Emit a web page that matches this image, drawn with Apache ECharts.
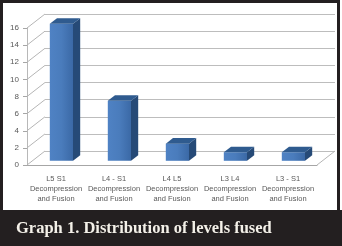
<!DOCTYPE html>
<html>
<head>
<meta charset="utf-8">
<script src="https://cdn.jsdelivr.net/npm/echarts@6/dist/echarts.min.js"></script>
<style>
  html, body { margin: 0; padding: 0; background: #fff; }
  #main { width: 342px; height: 246px; }
</style>
</head>
<body>
<div id="main"></div>
<script>
var levels = ["L5 S1", "L4 - S1", "L4 L5", "L3 L4", "L3 - S1"];
var values = [16, 7, 2, 1, 1];
var yTicks = [0, 2, 4, 6, 8, 10, 12, 14, 16];
var caption = "Graph 1. Distribution of levels fused";

// 3d depth of the plot box (px), bars take the middle part of it
var DX = 18, DY = -14;

var chart = echarts.init(document.getElementById("main"));

function renderBar(params, api) {
  var top = api.coord([api.value(0), api.value(1)]);
  var base = api.coord([api.value(0), 0]);
  var bw = api.size([1, 0])[0] * 0.4;
  var fx = DX * 0.3, fy = DY * 0.3;
  var dx = DX * 0.4, dy = DY * 0.4;
  var xl = top[0] - bw / 2 + fx, xr = xl + bw;
  var yt = top[1] + fy, yb = base[1] + fy;
  return {
    type: "group",
    children: [
      {
        type: "rect",
        shape: { x: xl, y: yt, width: bw, height: yb - yt },
        style: {
          fill: new echarts.graphic.LinearGradient(0, 0, 1, 0, [
            { offset: 0, color: "#4f82c4" },
            { offset: 0.5, color: "#4a7cbc" },
            { offset: 1, color: "#3b69a6" }
          ])
        }
      },
      {
        type: "polygon",
        shape: { points: [[xr, yt], [xr + dx, yt + dy], [xr + dx, yb + dy], [xr, yb]] },
        style: { fill: "#264a77" }
      },
      {
        type: "polygon",
        shape: { points: [[xl, yt], [xl + dx, yt + dy], [xr + dx, yt + dy], [xr, yt]] },
        style: { fill: "#2f5b8f" }
      }
    ]
  };
}

function renderDiag(params, api) {
  var cs = params.coordSys;
  var y = api.coord([0, api.value(1)])[1];
  var kids = [{
    type: "line",
    shape: { x1: cs.x, y1: y, x2: cs.x + DX, y2: y + DY },
    style: { stroke: "#b5b5b5", lineWidth: 1 }
  }];
  if (api.value(1) === 0) {
    kids.push({
      type: "line",
      shape: { x1: cs.x + cs.width, y1: y, x2: cs.x + cs.width + DX, y2: y + DY },
      style: { stroke: "#b5b5b5", lineWidth: 1 }
    });
  }
  return { type: "group", children: kids };
}

chart.setOption({
  animation: false,
  title: {
    text: caption,
    left: 11,
    top: 215,
    textStyle: {
      fontFamily: "Liberation Serif",
      fontWeight: "bold",
      fontSize: 16.5,
      color: "#f3f0e8"
    }
  },
  graphic: [
    {
      type: "rect",
      shape: { x: 0, y: 210, width: 342, height: 36 },
      style: { fill: "#231f20" },
      z: -1
    },
    {
      type: "rect",
      shape: { x: 1.5, y: 1.5, width: 337, height: 243 },
      style: { fill: null, stroke: "#231f20", lineWidth: 3 },
      z: -1
    }
  ],
  grid: [
    { left: 27, right: 25, top: 28, bottom: 81 },
    { left: 45, right: 7, top: 14, bottom: 95 }
  ],
  xAxis: [
    {
      type: "category",
      gridIndex: 0,
      data: levels,
      axisLine: { lineStyle: { color: "#a6a6a6" } },
      axisTick: { length: 3, lineStyle: { color: "#a6a6a6" } },
      axisLabel: {
        interval: 0,
        margin: 9,
        fontSize: 7.5,
        lineHeight: 10,
        color: "#595959",
        fontFamily: "Liberation Sans",
        formatter: function (v) { return v + "\nDecompression\nand Fusion"; }
      }
    },
    {
      type: "category",
      gridIndex: 1,
      data: levels,
      show: false
    }
  ],
  yAxis: [
    {
      type: "value",
      gridIndex: 0,
      min: 0,
      max: 16,
      interval: 2,
      splitLine: { show: false },
      axisLine: { show: true, lineStyle: { color: "#b8b8b8" } },
      axisTick: { show: true, length: 4, lineStyle: { color: "#a6a6a6" } },
      axisLabel: { fontSize: 8, margin: 8, color: "#595959", fontFamily: "Liberation Sans" }
    },
    {
      type: "value",
      gridIndex: 1,
      min: 0,
      max: 16,
      interval: 2,
      axisLine: { show: false },
      axisTick: { show: false },
      axisLabel: { show: false },
      splitLine: { lineStyle: { color: "#bdbdbd", width: 1 } }
    }
  ],
  series: [
    {
      type: "custom",
      xAxisIndex: 0,
      yAxisIndex: 0,
      renderItem: renderDiag,
      clip: false,
      data: yTicks.map(function (v) { return [0, v]; }),
      z: 1
    },
    {
      type: "custom",
      xAxisIndex: 0,
      yAxisIndex: 0,
      renderItem: renderBar,
      clip: false,
      data: values.map(function (v, i) { return [i, v]; }),
      z: 5
    }
  ]
});
</script>
</body>
</html>
